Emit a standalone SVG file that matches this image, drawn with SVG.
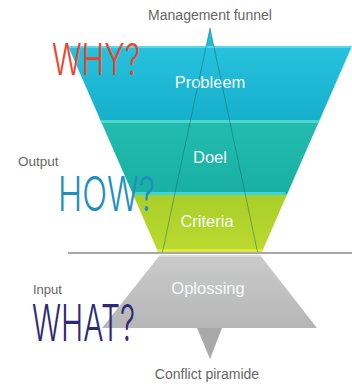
<svg xmlns="http://www.w3.org/2000/svg" width="352" height="384" viewBox="0 0 352 384">
<defs>
<linearGradient id="gCyan" x1="0" y1="0" x2="0" y2="1"><stop offset="0" stop-color="#27c2de"/><stop offset="1" stop-color="#16afcc"/></linearGradient>
<linearGradient id="gTeal" x1="0" y1="0" x2="0" y2="1"><stop offset="0" stop-color="#22bcae"/><stop offset="1" stop-color="#19b0a4"/></linearGradient>
<linearGradient id="gLime" x1="0" y1="0" x2="0" y2="1"><stop offset="0" stop-color="#a9cf2a"/><stop offset="1" stop-color="#bcd92e"/></linearGradient>
<linearGradient id="gGray" x1="0" y1="0" x2="0" y2="1"><stop offset="0" stop-color="#cbcbcb"/><stop offset="1" stop-color="#b6b6b6"/></linearGradient>
<style>
.lbl{font-family:"Liberation Sans",Arial,sans-serif;fill:#f4fbfb;text-anchor:middle}
.cap{font-family:"Liberation Sans",Arial,sans-serif;fill:#666666}
.hand{font-family:Inter,"Open Sans","DejaVu Sans",sans-serif;font-weight:300}
.inner{stroke:#0b5f66;stroke-opacity:0.45;stroke-width:1;fill:none}
</style>
</defs>
<g id="probleem">
<polygon points="68,46 352,46 319.6,120 100.4,120" fill="url(#gCyan)"/>
<polygon points="206.2,46 213.8,46 210,28" fill="#22bcd8"/>
<line x1="69" y1="47" x2="351" y2="47" stroke="#5ad6ea" stroke-width="2"/>
<text class="lbl" x="210" y="88" font-size="16.5">Probleem</text>
</g>
<g id="doel">
<polygon points="100.4,120 319.6,120 286.8,195 133.2,195" fill="url(#gTeal)"/>
<polygon points="100.4,120 319.6,120 318.3,123 101.7,123" fill="#4fd6c6"/>
<polygon points="135.4,192 284.6,192 286.8,195 133.2,195" fill="#3ad6da"/>
<text class="lbl" x="210" y="163" font-size="16.5">Doel</text>
</g>
<g id="criteria">
<polygon points="133.2,195 286.8,195 261.9,252 158.1,252" fill="url(#gLime)"/>
<polygon points="156.8,249 263.2,249 261.9,252 158.1,252" fill="#d9ec3e"/>
<text class="lbl" x="207" y="227" font-size="16.5">Criteria</text>
</g>
<g id="oplossing">
<polygon points="160,255 260,255 317,328 102,328" fill="url(#gGray)"/>
<polygon points="160,255 260,255 261.5,257 158.5,257" fill="#dcdcdc"/>
<polygon points="197,328 222,328 210,359" fill="#a9a9a9"/>
<text class="lbl" x="208" y="294" font-size="16.5">Oplossing</text>
</g>
<g id="connectors">
<line class="inner" x1="210" y1="28" x2="162.5" y2="252"/>
<line class="inner" x1="210" y1="28" x2="257.5" y2="252"/>
<line x1="68" y1="253" x2="352" y2="253" stroke="#8a8a8a" stroke-width="1.5"/>
</g>
<g id="labels">
<text class="cap" x="210" y="20" font-size="14" text-anchor="middle">Management funnel</text>
<text class="cap" x="18" y="166" font-size="13.5">Output</text>
<text class="cap" x="33" y="294" font-size="13">Input</text>
<text class="cap" x="207" y="379" font-size="14" text-anchor="middle">Conflict piramide</text>
</g>
<g id="handwriting">
<text class="hand" transform="translate(52,75) scale(1,1.45)" font-size="30" fill="#e8452a" textLength="88" lengthAdjust="spacingAndGlyphs">WHY?</text>
<text class="hand" transform="translate(58,211) scale(1,1.5)" font-size="32" fill="#1e8fc0" textLength="97" lengthAdjust="spacingAndGlyphs">HOW?</text>
<text class="hand" transform="translate(32,341) scale(1,1.75)" font-size="29" fill="#2c2a78" textLength="103" lengthAdjust="spacingAndGlyphs">WHAT?</text>
</g>
</svg>
